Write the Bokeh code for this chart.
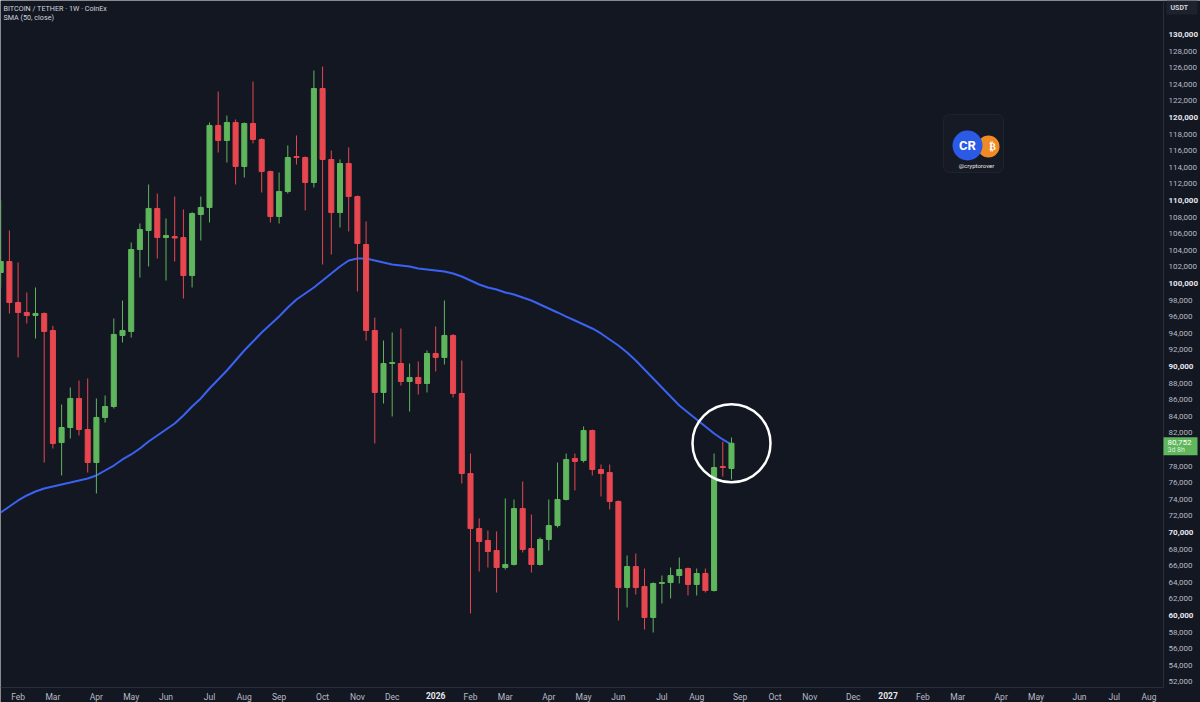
from bokeh.plotting import figure
from bokeh.models import (FixedTicker, Label, BoxAnnotation, Range1d, NumeralTickFormatter,
                          ColumnDataSource, LinearAxis)
from bokeh.core.properties import value
from bokeh.embed import file_html
from bokeh.resources import INLINE

# ---------------- data ----------------
title_text = "BITCOIN / TETHER · 1W · CoinEx"
indicator_text = "SMA (50, close)"
quote_unit = "USDT"
last_price_text = "80,752"
countdown_text = "3d 8h"
logo_handle = "@cryptorover"

opens = [101330, 102650, 97710, 96510, 96150, 96390, 94340, 80840, 82650, 86150,
         82410, 78430, 83860, 85180, 93740, 94220, 104100, 106390, 109040, 105540,
         105660, 105540, 100960, 108310, 109160, 119040, 117230, 119400, 114100, 119280,
         117350, 113490, 108070, 111080, 115300, 115180, 112170, 123490, 114940, 108550,
         114460, 110480, 104700, 94340, 86870, 90360, 90360, 88190, 88680, 87950,
         91570, 91090, 93740, 86750, 77110, 70480, 69040, 67830, 65780, 66150,
         72890, 68070, 66150, 69160, 70840, 73980, 78920, 78680, 82290, 77590,
         77230, 73740, 63370, 65900, 63500, 59760, 63860, 63980, 64820, 65660,
         63740, 65060, 63010, 77950, 77710]
highs = [110000, 106390, 102530, 98920, 99520, 96510, 94900, 85420, 87470, 88310,
         88560, 86150, 86510, 95780, 97950, 104940, 107230, 111930, 110840, 107830,
         110480, 108920, 108600, 110480, 119400, 123130, 120240, 119760, 119400, 124340,
         117500, 113600, 113370, 116630, 117830, 115300, 125660, 126140, 116020, 114940,
         116390, 110600, 107470, 95900, 93130, 94100, 94580, 90360, 90600, 91930,
         94820, 97950, 93900, 90720, 79520, 71690, 70240, 70120, 74100, 73980,
         76150, 72170, 69400, 73980, 78430, 79520, 79520, 82770, 82400, 78190,
         78190, 73860, 67230, 67470, 65660, 63980, 64820, 65780, 66990, 65780,
         65660, 65660, 79520, 80960, 81450]
lows = [99520, 96390, 91090, 95180, 93370, 78430, 80120, 76870, 81330, 81690,
        77230, 74700, 83250, 84940, 92890, 93490, 100720, 102050, 103010, 100360,
        102650, 98190, 99520, 105180, 107350, 115780, 114580, 111930, 112770, 116870,
        110960, 107350, 107230, 110840, 114340, 108800, 111570, 102290, 103490, 106750,
        106270, 99040, 93130, 80720, 85540, 83980, 87710, 84580, 86630, 86870,
        89400, 90240, 86270, 75900, 60240, 65300, 65780, 62770, 65540, 66020,
        67590, 65180, 66020, 67830, 70600, 73860, 75060, 78430, 76870, 74340,
        72770, 59400, 60970, 62530, 58310, 57950, 61450, 62050, 63860, 62410,
        62410, 62770, 62890, 76750, 76390]
closes = [102650, 97710, 96510, 96150, 96390, 94220, 80720, 82650, 86150, 82410,
          78430, 83860, 85180, 93860, 94340, 104100, 106510, 109040, 105540, 105780,
          105480, 100960, 108430, 109160, 119040, 117230, 119400, 114100, 119280, 117350,
          113490, 108070, 111080, 115180, 115180, 112170, 123490, 114940, 108550, 114460,
          110480, 104820, 94340, 86870, 90360, 90480, 88190, 88680, 87950, 91570,
          91090, 93740, 86750, 77110, 70480, 68920, 67710, 65780, 66150, 72890,
          67950, 66150, 69160, 70840, 73980, 78800, 78560, 82290, 77590, 77110,
          73740, 63370, 65900, 63370, 59760, 63860, 63980, 64820, 65540, 63740,
          65060, 63010, 77830, 77830, 80752]
sma50 = [72410, 73130, 73860, 74460, 74940, 75300, 75540, 75780, 76020, 76270,
         76510, 76870, 77470, 78070, 78800, 79400, 80120, 80960, 81690, 82410,
         83130, 84100, 85180, 86150, 87350, 88430, 89520, 90720, 91930, 93010,
         94100, 95060, 96020, 97110, 98070, 98800, 99520, 100360, 101210, 102050,
         102770, 103010, 103010, 102770, 102530, 102290, 102170, 102050, 101810, 101690,
         101570, 101450, 101210, 100840, 100360, 99880, 99520, 99280, 98920, 98680,
         98310, 97950, 97470, 96990, 96510, 96020, 95540, 95060, 94580, 93980,
         93250, 92530, 91690, 90720, 89640, 88560, 87470, 86390, 85300, 84460,
         83620, 82770, 81930, 81210, 80600]

bar_index = list(range(len(closes)))  # weekly bars, first bar = week of 20 Jan 2025

month_tick_index = [2, 6, 11, 15, 19, 24, 28, 32, 37, 41, 45, 54, 58, 63, 67,
                    71, 76, 80, 85, 89, 93, 98, 106, 110, 115, 119, 124, 128, 132]
month_tick_labels = ["Feb", "Mar", "Apr", "May", "Jun", "Jul", "Aug", "Sep", "Oct", "Nov", "Dec",
                     "Feb", "Mar", "Apr", "May", "Jun", "Jul", "Aug", "Sep", "Oct", "Nov", "Dec",
                     "Feb", "Mar", "Apr", "May", "Jun", "Jul", "Aug"]
year_tick_index = [50, 102]
year_tick_labels = ["2026", "2027"]
price_ticks = [52000, 54000, 56000, 58000, 62000, 64000, 66000, 68000, 72000, 74000,
               76000, 78000, 80000, 82000, 84000, 86000, 88000, 92000, 94000, 96000,
               98000, 102000, 104000, 106000, 108000, 112000, 114000, 116000, 118000,
               122000, 124000, 126000, 128000]
round_price_ticks = [60000, 70000, 90000, 100000, 110000, 120000, 130000]

# ---------------- style ----------------
BG = "#131722"
UP = "#5fb65c"
DOWN = "#e8474f"
SMA_COLOR = "#3b62f2"
AXIS_LINE = "#2a2e39"
LABEL_COLOR = "#b8bbc3"
LABEL_BOLD = "#e6e8ee"
FONT = "Roboto"

# view: bar spacing and price scale of the reference screen
X_LO, X_HI = -0.023, 137.91
Y_LO, Y_HI = 49519, 134096
PX_PER_X = 1200 / (X_HI - X_LO)
PRICE_PER_PX = (Y_HI - Y_LO) / 702


def px_x(px):
    return X_LO + px / PX_PER_X


def px_y(py):
    return Y_HI - py * PRICE_PER_PX


SCALE_X = px_x(1163)   # left edge of the price scale
TIME_Y = px_y(687)     # top edge of the time scale

p = figure(width=1200, height=702, output_backend="svg", toolbar_location=None,
           x_range=Range1d(X_LO, X_HI), y_range=Range1d(Y_LO, Y_HI),
           y_axis_location="right",
           min_border_left=0, min_border_top=0, min_border_right=0, min_border_bottom=0)
p.background_fill_color = BG
p.border_fill_color = BG
p.outline_line_color = None
p.xgrid.grid_line_color = None
p.ygrid.grid_line_color = None


def style_axis(ax, ticks, color, bold, size, standoff):
    ax.ticker = FixedTicker(ticks=ticks)
    ax.major_tick_line_color = None
    ax.minor_tick_line_color = None
    ax.major_tick_out = 0
    ax.major_tick_in = 0
    ax.major_label_text_color = color
    ax.major_label_text_font = FONT
    ax.major_label_text_font_size = size
    ax.major_label_text_font_style = "bold" if bold else "normal"
    ax.major_label_standoff = standoff


# time scale (drawn at the bottom edge of the chart pane)
xa = p.xaxis[0]
style_axis(xa, month_tick_index, LABEL_COLOR, False, "8.5px", 4)
xa.major_label_overrides = {i: lab for i, lab in zip(month_tick_index, month_tick_labels)}
xa.fixed_location = TIME_Y
xa.axis_line_color = AXIS_LINE
xa.bounds = (X_LO, SCALE_X)

xa2 = LinearAxis()
style_axis(xa2, year_tick_index, LABEL_BOLD, True, "8.5px", 4)
xa2.major_label_overrides = {i: lab for i, lab in zip(year_tick_index, year_tick_labels)}
xa2.fixed_location = TIME_Y
xa2.axis_line_color = None
p.add_layout(xa2, "below")

# price scale (drawn at the right edge of the chart pane)
ya = p.yaxis[0]
style_axis(ya, price_ticks, LABEL_COLOR, False, "8px", 5)
ya.formatter = NumeralTickFormatter(format="0,0")
ya.fixed_location = SCALE_X
ya.axis_line_color = AXIS_LINE
ya.bounds = (TIME_Y, Y_HI)

ya2 = LinearAxis()
style_axis(ya2, round_price_ticks, LABEL_BOLD, True, "8px", 5)
ya2.formatter = NumeralTickFormatter(format="0,0")
ya2.fixed_location = SCALE_X
ya2.axis_line_color = None
p.add_layout(ya2, "right")

# ---------------- SMA ----------------
p.line(bar_index, sma50, line_color=SMA_COLOR, line_width=2)

# ---------------- candles ----------------
colors = [UP if c >= o else DOWN for o, c in zip(opens, closes)]
src = ColumnDataSource(dict(
    x=bar_index, open=opens, high=highs, low=lows, close=closes,
    top=[max(o, c) for o, c in zip(opens, closes)],
    bottom=[min(o, c) for o, c in zip(opens, closes)],
    color=colors))
p.segment(x0="x", y0="low", x1="x", y1="high", line_color="color", line_width=1, source=src)
p.vbar(x="x", width=0.58, top="top", bottom="bottom", fill_color="color",
       line_color="color", line_width=1, source=src)

# highlight circle round the last candle
p.scatter([bar_index[-1]], [closes[-1]], marker="circle", size=78,
          fill_color=None, line_color="white", line_width=2.5)

# ---------------- header texts ----------------
p.add_layout(Label(x=X_LO, y=Y_HI, x_offset=3, y_offset=-3, text=title_text,
                   text_baseline="top", text_font=FONT, text_font_size="7.2px",
                   text_color="#d1d4dc"))
p.add_layout(Label(x=X_LO, y=Y_HI, x_offset=3, y_offset=-12.5, text=indicator_text,
                   text_baseline="top", text_font=FONT, text_font_size="7.2px",
                   text_color="#d1d4dc"))

# quote unit box on the price scale
p.add_layout(BoxAnnotation(left=px_x(1166), right=px_x(1197), top=Y_HI, bottom=px_y(14),
                           fill_color="#1e222d", fill_alpha=1, line_color=None))
p.add_layout(Label(x=px_x(1170), y=px_y(7), text=quote_unit,
                   text_baseline="middle", text_font=FONT, text_font_size="7px",
                   text_font_style="bold", text_color="#d1d4dc"))

# last price tag on the price scale
p.add_layout(BoxAnnotation(left=SCALE_X, right=px_x(1197),
                           top=closes[-1] + 6 * PRICE_PER_PX,
                           bottom=closes[-1] - 12 * PRICE_PER_PX,
                           fill_color=UP, fill_alpha=1, line_color=None))
p.add_layout(Label(x=SCALE_X, y=closes[-1], x_offset=4, y_offset=1, text=last_price_text,
                   text_baseline="middle", text_font=FONT, text_font_size="8px",
                   text_color="#ffffff"))
p.add_layout(Label(x=SCALE_X, y=closes[-1], x_offset=4, y_offset=-7, text=countdown_text,
                   text_baseline="middle", text_font=FONT, text_font_size="7px",
                   text_color="#d8f0d6"))

# ---------------- logo watermark ----------------
p.add_layout(BoxAnnotation(left=px_x(943), right=px_x(1003), top=px_y(114), bottom=px_y(172),
                           fill_color="#161a25", fill_alpha=1, line_color="#363a45",
                           line_width=1, border_radius=6, level="underlay"))
p.scatter([px_x(988)], [px_y(146)], marker="circle", size=22, fill_color="#f08a24", line_color=None)
p.scatter([px_x(967)], [px_y(145)], marker="circle", size=30, fill_color="#2a5ae6", line_color=None)
p.text([px_x(967)], [px_y(145)], text=["CR"], text_align="center", text_baseline="middle",
       text_font=value("Roboto"), text_font_style="bold", text_font_size="13px", text_color="white")
p.text([px_x(992)], [px_y(146)], text=["₿"], text_align="center", text_baseline="middle",
       text_font=value("DejaVu Sans"), text_font_style="bold", text_font_size="10px", text_color="white")
p.text([px_x(976)], [px_y(165)], text=[logo_handle], text_align="center", text_baseline="middle",
       text_font=value("Roboto"), text_font_size="6px", text_color="#e6e6e6")

open("out.html", "w").write(file_html(p, INLINE))
